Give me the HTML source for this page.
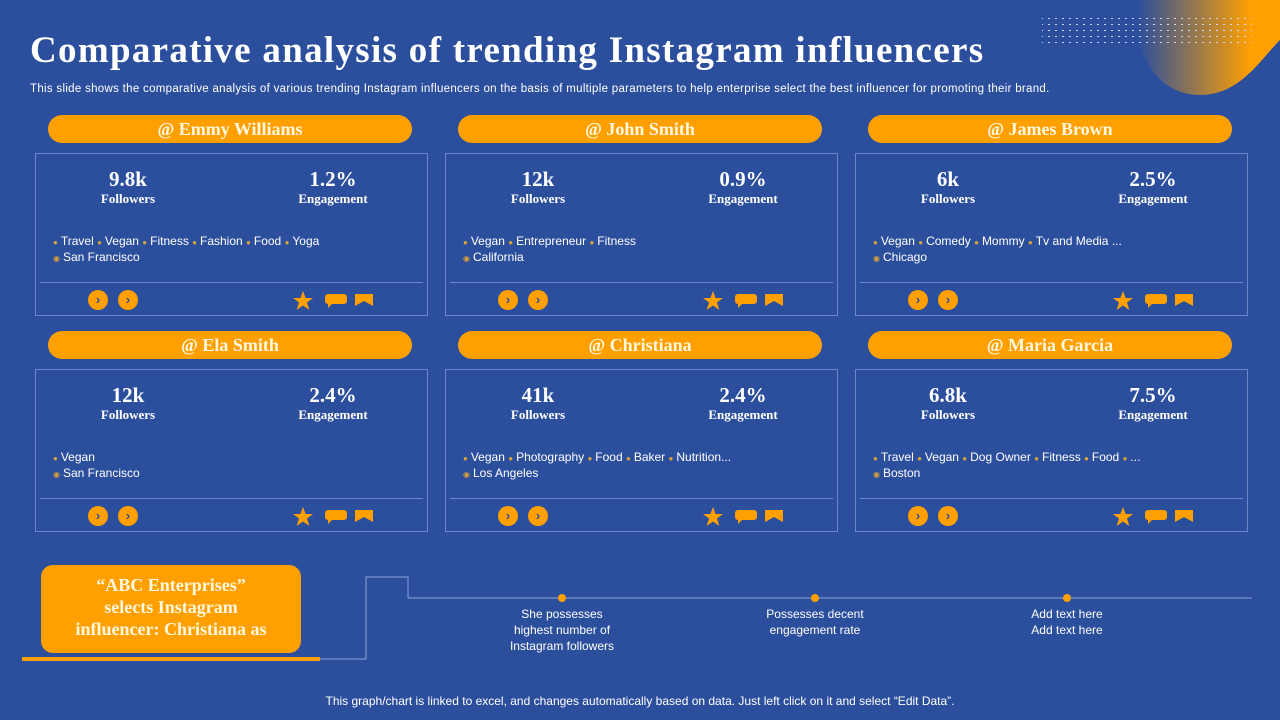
<!DOCTYPE html>
<html><head><meta charset="utf-8">
<style>
body{margin:0;width:1280px;height:720px;overflow:hidden;background:#2c4f9d;font-family:"Liberation Sans",sans-serif;color:#fff;position:relative}
.a{position:absolute}
.serif{font-family:"Liberation Serif",serif;font-weight:bold}
.pill{position:absolute;height:28px;width:364px;border-radius:14px;background:#ffa000;text-align:center;line-height:28px;font-size:18px;color:#fff8e0}
.card{position:absolute;width:393px;height:163px;border:1px solid #6b86c9;box-sizing:border-box}
.div{position:absolute;left:4px;right:4px;top:128px;border-top:1px solid #6b86c9}
.val{position:absolute;width:160px;text-align:center;font-size:21px;top:13px}
.lab{position:absolute;width:160px;text-align:center;font-size:13px;top:37px}
.tags{position:absolute;left:17px;top:80px;font-size:12px;line-height:14px;white-space:nowrap}
.ic{color:#d9a23a;font-size:8px;margin-right:3px}
.btn{position:absolute;top:136px;width:20px;height:20px;border-radius:50%;background:#ffa000;color:#2c4f9d;font-weight:bold;font-size:13px;line-height:20px;text-align:center}
</style></head><body>
<svg class="a" style="left:1020px;top:0" width="260" height="110">
<defs><linearGradient id="g" x1="0" x2="1"><stop offset="0" stop-color="#2c4f9d"/><stop offset="0.8" stop-color="#ffa000"/></linearGradient>
<pattern id="d" width="7" height="6" patternUnits="userSpaceOnUse"><rect width="2" height="1" fill="#cdd8f0"/></pattern></defs>
<path d="M120 0 C110 40 130 95 180 95 C220 95 240 60 260 40 L260 0Z" fill="url(#g)"/>
<rect x="22" y="18" width="210" height="26" fill="url(#d)"/>
</svg>
<div class="a serif" style="left:30px;top:29px;font-size:37px;letter-spacing:1.3px;color:#fff">Comparative analysis of trending Instagram influencers</div>
<div class="a" style="left:30px;top:83px;font-size:11.5px;letter-spacing:0.3px;white-space:nowrap">This slide shows the comparative analysis of various trending Instagram influencers on the basis of multiple parameters to help enterprise select the best influencer for promoting their brand.</div>
<div id="cards"></div>
<div class="a serif" style="left:41px;top:565px;width:260px;height:88px;border-radius:12px;background:#ffa000;color:#fff8e0;font-size:18px;text-align:center;line-height:22px;padding-top:9px;box-sizing:border-box">“ABC Enterprises”<br>selects Instagram<br>influencer: Christiana as</div>
<svg class="a" style="left:0;top:560px" width="1280" height="110">
<rect x="22" y="97" width="298" height="4" fill="#ffa000"/>
<polyline points="320,99 366,99 366,17 408,17 408,38 1252,38" fill="none" stroke="#8aa2dc" stroke-width="1"/>
<circle cx="562" cy="38" r="4" fill="#ffa000"/><circle cx="815" cy="38" r="4" fill="#ffa000"/><circle cx="1067" cy="38" r="4" fill="#ffa000"/>
</svg>
<div class="a" style="left:482px;top:606px;width:160px;text-align:center;font-size:12px;line-height:16px">She possesses<br>highest number of<br>Instagram followers</div>
<div class="a" style="left:735px;top:606px;width:160px;text-align:center;font-size:12px;line-height:16px">Possesses decent<br>engagement rate</div>
<div class="a" style="left:987px;top:606px;width:160px;text-align:center;font-size:12px;line-height:16px">Add text here<br>Add text here</div>
<div class="a" style="left:0;width:1280px;top:694px;text-align:center;font-size:12px">This graph/chart is linked to excel, and changes automatically based on data. Just left click on it and select “Edit Data”.</div>
<script>
const names=["Emmy Williams","John Smith","James Brown","Ela Smith","Christiana","Maria Garcia"];
const followers=["9.8k","12k","6k","12k","41k","6.8k"];
const engagement=["1.2%","0.9%","2.5%","2.4%","2.4%","7.5%"];
const tags=[["Travel","Vegan","Fitness","Fashion","Food","Yoga"],["Vegan","Entrepreneur","Fitness"],["Vegan","Comedy","Mommy","Tv  and Media ..."],["Vegan"],["Vegan","Photography","Food","Baker","Nutrition..."],["Travel","Vegan","Dog Owner","Fitness","Food","..."]];
const cities=["San Francisco","California","Chicago","San Francisco","Los Angeles","Boston"];
const root=document.getElementById('cards');
names.forEach((n,i)=>{
 const x=[35,445,855][i%3], y=i<3?115:331;
 const p=document.createElement('div');p.className='pill serif';
 
 
 p.style.left=(x+13)+'px';p.style.top=y+'px';p.textContent='@ '+n;root.appendChild(p);
 const c=document.createElement('div');c.className='card';
 
 
 c.style.left=x+'px';c.style.top=(y+38)+'px';
 c.innerHTML=`<div class="val serif" style="left:12px">${followers[i]}</div><div class="lab serif" style="left:12px">Followers</div>
 <div class="val serif" style="left:217px">${engagement[i]}</div><div class="lab serif" style="left:217px">Engagement</div>
 <div class="tags">${tags[i].map(t=>'<span class="ic">&#9679;</span>'+t).join('  ')}<br><span class="ic">&#9673;</span>${cities[i]}</div>
 <div class="div"></div>
 <div class="btn" style="left:52px">&#8250;</div><div class="btn" style="left:82px">&#8250;</div>
 <svg style="position:absolute;left:256px;top:136px" width="90" height="22"><polygon points="11,1 13.6,8 21,8 15,12.5 17.3,20 11,15.5 4.7,20 7,12.5 1,8 8.4,8" fill="#ffa000"/>
 <rect x="33" y="4" width="22" height="10" rx="3" fill="#ffa000"/><polygon points="36,13 36,18 41,13" fill="#ffa000"/>
 <path d="M63 4 H81 V16 L72 11 L63 16Z" fill="#ffa000"/></svg>`;
 root.appendChild(c);
});
</script>
</body></html>
